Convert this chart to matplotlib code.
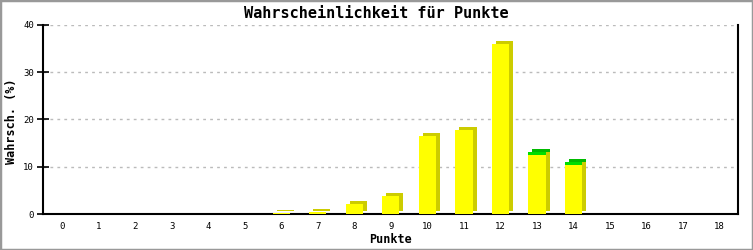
import numpy as np
import matplotlib
matplotlib.use("Agg")
import matplotlib.pyplot as plt
import matplotlib.transforms as mtransforms
from matplotlib.patches import Rectangle

punkte = np.arange(0, 19)
# probability (%) per score
wahrsch = [0, 0, 0, 0, 0, 0, 0.2, 0.4, 2.2, 3.9, 16.5, 17.8, 36.0, 12.5, 10.4, 0, 0, 0, 0]
extra = [0, 0, 0, 0, 0, 0, 0, 0, 0, 0, 0, 0, 0, 0.6, 0.6, 0, 0, 0, 0]
tick_labels = [str(p) for p in punkte]

fnt = "DejaVu Sans Mono"
yellow = "#ffff00"
yellow_dark = "#cccc00"
green = "#00dd00"
green_dark = "#00bb00"

fig = plt.figure(figsize=(7.53, 2.5), dpi=100)
ax = fig.add_axes([43/753, 1 - 214/250, (738 - 43)/753, (214 - 25)/250])

# 3d look: shadow bars shifted right/up by a few pixels
shift = mtransforms.offset_copy(ax.transData, fig=fig, x=4, y=3, units="dots")
w = 0.47
ax.bar(punkte, wahrsch, width=w, color=yellow_dark, transform=shift, zorder=2, linewidth=0)
ax.bar(punkte, extra, width=w, bottom=wahrsch, color=green_dark, transform=shift, zorder=2, linewidth=0)
ax.bar(punkte, wahrsch, width=w, color=yellow, zorder=3, linewidth=0)
ax.bar(punkte, extra, width=w, bottom=wahrsch, color=green, zorder=3, linewidth=0)

ax.set_xlim(-0.52, 18.5)
ax.set_ylim(0, 40)
ax.set_xticks(punkte)
ax.set_xticklabels(tick_labels)
ax.set_yticks([0, 10, 20, 30, 40])
ax.tick_params(axis="x", length=0, pad=6, labelsize=6.5)
ax.tick_params(axis="y", direction="inout", length=9, width=1.2, pad=2, labelsize=6.5)
for lab in ax.get_xticklabels() + ax.get_yticklabels():
    lab.set_family(fnt)

ax.yaxis.grid(True, color="#bbbbbb", linestyle=(0, (2, 3)), linewidth=1)
ax.set_axisbelow(True)
ax.spines["top"].set_visible(False)
for s in ["left", "bottom", "right"]:
    ax.spines[s].set_linewidth(1.5)
    ax.spines[s].set_color("black")

ax.set_xlabel("Punkte", family=fnt, fontweight="bold", fontsize=8.5, labelpad=1)
fig.text(12/753, 1 - 121/250, "Wahrsch. (%)", rotation=90, ha="center", va="center",
         family=fnt, fontweight="bold", fontsize=8.5)
fig.text(0.5, 1 - 13/250, "Wahrscheinlichkeit für Punkte", ha="center", va="center",
         family=fnt, fontweight="bold", fontsize=11)

fig.patches.append(Rectangle((0, 0), 1, 1, transform=fig.transFigure, fill=False,
                             edgecolor="#999999", linewidth=2.5))

fig.savefig("out.png", dpi=100)
